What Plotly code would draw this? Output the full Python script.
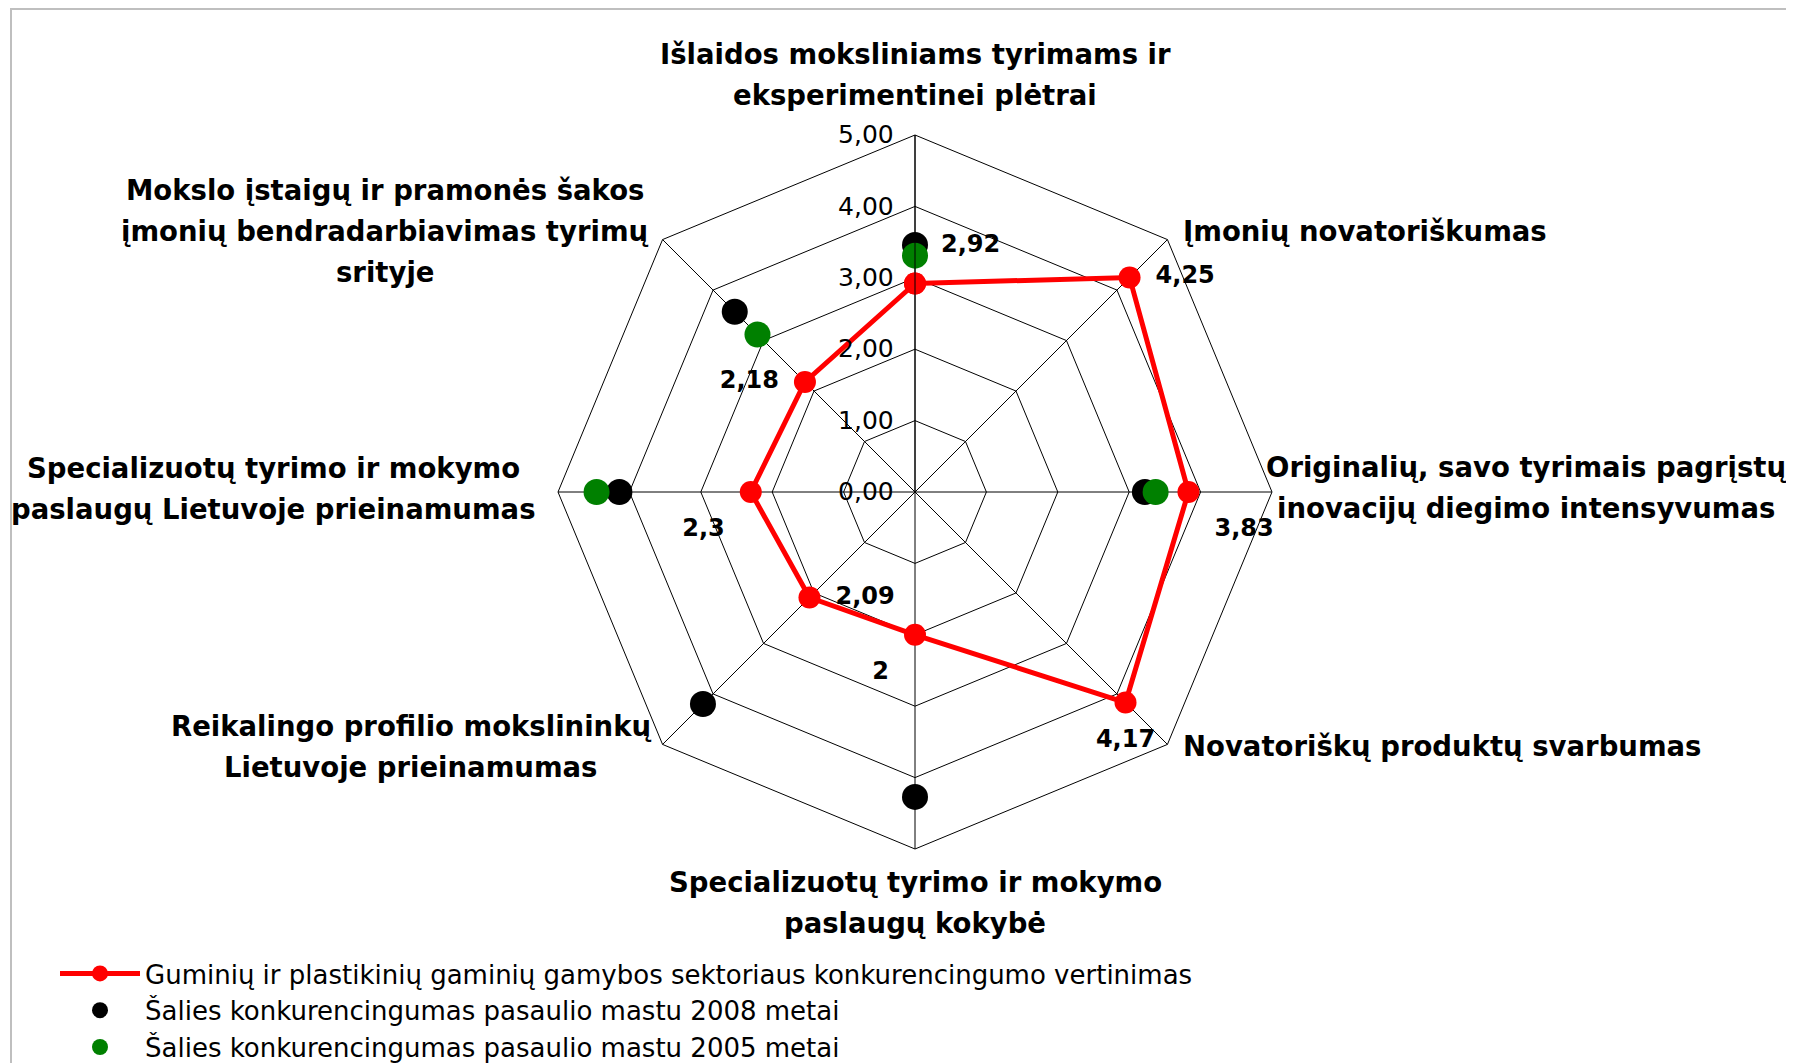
import plotly.graph_objects as go

W, H = 1794, 1063
OFF = 8  # page body margin that write_html adds around the figure

categories = [
    "Išlaidos moksliniams tyrimams ir\neksperimentinei plėtrai",
    "Įmonių novatoriškumas",
    "Originalių, savo tyrimais pagrįstų\ninovacijų diegimo intensyvumas",
    "Novatoriškų produktų svarbumas",
    "Specializuotų tyrimo ir mokymo\npaslaugų kokybė",
    "Reikalingo profilio mokslininkų\nLietuvoje prieinamumas",
    "Specializuotų tyrimo ir mokymo\npaslaugų Lietuvoje prieinamumas",
    "Mokslo įstaigų ir pramonės šakos\nįmonių bendradarbiavimas tyrimų\nsrityje",
]
sector = [2.92, 4.25, 3.83, 4.17, 2.00, 2.09, 2.30, 2.18]
country_2008 = [3.46, None, 3.22, None, 4.27, 4.20, 4.14, 3.57]
country_2005 = [3.31, None, 3.37, None, None, 5.12, 4.46, 3.12]
sector_labels = ["2,92", "4,25", "3,83", "4,17", "2", "2,09", "2,3", "2,18"]

series_names = [
    "Guminių ir plastikinių gaminių gamybos sektoriaus konkurencingumo vertinimas",
    "Šalies konkurencingumas pasaulio mastu 2008 metai",
    "Šalies konkurencingumas pasaulio mastu 2005 metai",
]

# label placement (page pixel centres of the category text blocks)
label_pos = [(915, 74, "center"), (1181, 231, "left"), (1526, 487, "center"),
             (1181, 746, "left"), (915, 902, "center"), (411, 746, "center"),
             (273, 488, "center"), (385, 231, "center")]
text_pos = ["top right", "middle right", "bottom right", "bottom center",
            "bottom left", "middle right", "bottom left", "middle left"]

theta = [c.replace("\n", " ") for c in categories]
WIDE = "DejaVu Sans, Verdana, sans-serif"


def px(x, y):
    return (x - OFF) / W, 1 - (y - OFF) / H


fig = go.Figure()
fig.add_trace(go.Scatterpolar(
    r=country_2008, theta=theta, mode="markers", name=series_names[1],
    marker=dict(color="black", size=26), cliponaxis=False, legendrank=2,
))
fig.add_trace(go.Scatterpolar(
    r=country_2005, theta=theta, mode="markers", name=series_names[2],
    marker=dict(color="#008000", size=26), cliponaxis=False, legendrank=3,
))
fig.add_trace(go.Scatterpolar(
    r=sector + sector[:1], theta=theta + theta[:1], mode="lines+markers",
    name=series_names[0],
    line=dict(color="#FF0000", width=5),
    marker=dict(color="#FF0000", size=22),
    cliponaxis=False, legendrank=1,
))
# data labels, pushed a bit further out than the default offset
fig.add_trace(go.Scatterpolar(
    r=sector, theta=theta, mode="markers+text", showlegend=False,
    marker=dict(size=40, opacity=0), hoverinfo="skip",
    text=sector_labels, textposition=text_pos,
    textfont=dict(family=WIDE, size=24, color="black", weight="bold"),
    cliponaxis=False,
))

cx, cy, R = 915, 492, 357
x0, y1 = px(cx - R, cy - R)
x1, y0 = px(cx + R, cy + R)

annotations = []
for cat, (x, y, align) in zip(categories, label_pos):
    lines = cat.split("\n")
    n = len(lines)
    for i, ln in enumerate(lines):
        yy = y + (i - (n - 1) / 2) * 41
        ax_, ay_ = px(x, yy)
        annotations.append(dict(
            text=f"<b>{ln}</b>", x=ax_, y=ay_, xref="paper", yref="paper",
            xanchor=align, yanchor="middle", showarrow=False,
            font=dict(family=WIDE, size=27.5, color="black"),
        ))

bx0, by1 = px(11, 9)
bx1, _ = px(1787, 9)

fig.update_layout(
    width=W, height=H,
    margin=dict(l=0, r=0, t=0, b=0),
    paper_bgcolor="white", plot_bgcolor="white",
    separators=",.",
    font=dict(family=WIDE, color="black"),
    polar=dict(
        domain=dict(x=[x0, x1], y=[y0, y1]),
        bgcolor="white",
        gridshape="linear",
        radialaxis=dict(
            range=[0, 5], dtick=1, tickformat=".2f", angle=90, tickangle=90,
            showline=True, linecolor="black", linewidth=1,
            gridcolor="black", gridwidth=1,
            ticks="outside", ticklen=12, tickcolor="rgba(0,0,0,0)",
            tickfont=dict(family=WIDE, size=25, color="black"),
            side="counterclockwise",
        ),
        angularaxis=dict(
            direction="clockwise", rotation=90,
            showticklabels=False, ticks="",
            gridcolor="black", gridwidth=1,
            linecolor="black", linewidth=1,
        ),
    ),
    legend=dict(
        x=(55 - OFF) / W, y=0, xanchor="left", yanchor="bottom",
        font=dict(family=WIDE, size=26, color="black"),
        itemwidth=80,
        bgcolor="rgba(0,0,0,0)", tracegroupgap=0,
    ),
    annotations=annotations,
    shapes=[dict(type="rect", xref="paper", yref="paper",
                 x0=bx0, x1=bx1, y0=-0.05, y1=by1,
                 line=dict(color="#BFBFBF", width=2))],
)

fig.write_html("out.html")
